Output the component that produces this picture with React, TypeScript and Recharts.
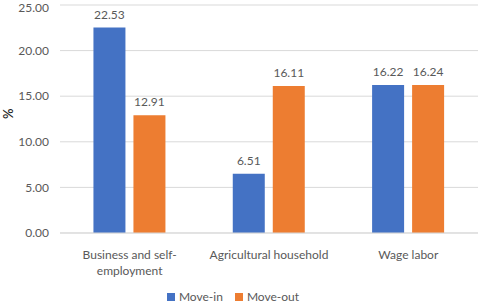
import React from "react";
import { BarChart, Bar, XAxis, YAxis, CartesianGrid, Legend, LabelList, Label } from "recharts";

const categories = ["Business and self-employment", "Agricultural household", "Wage labor"];
const moveIn = [22.53, 6.51, 16.22];
const moveOut = [12.91, 16.11, 16.24];
const yTicks = [0, 5, 10, 15, 20, 25];

const data = categories.map((c, i) => ({ name: c, moveIn: moveIn[i], moveOut: moveOut[i] }));

const FONT = "Lato, 'Open Sans', sans-serif";
const GREY = "#595959";

const splitLabel = (s: string): string[] => {
  if (s.length > 24) {
    const idx = s.lastIndexOf("-");
    if (idx > 0) return [s.slice(0, idx + 1), s.slice(idx + 1)];
  }
  return [s];
};

const XTick = (props: any) => {
  const { x, y, payload } = props;
  const lines = splitLabel(payload.value);
  return (
    <text x={x} y={y} textAnchor="middle" fill={GREY} fontSize={12} fontFamily={FONT}>
      {lines.map((l, i) => (
        <tspan key={i} x={x} dy={i === 0 ? 18 : 16}>
          {l}
        </tspan>
      ))}
    </text>
  );
};

export default function App() {
  return (
    <div style={{ position: "absolute", left: 0, top: 0, width: 480, height: 305, background: "#fff" }}>
      <BarChart
        width={480}
        height={305}
        data={data}
        margin={{ top: 5, right: 2, left: 0, bottom: 0 }}
        barGap={8}
        barCategoryGap="24%"
      >
        <CartesianGrid vertical={false} stroke="#d9d9d9" />
        <XAxis
          dataKey="name"
          axisLine={{ stroke: "#d9d9d9" }}
          tickLine={false}
          height={50}
          interval={0}
          tick={<XTick />}
        />
        <YAxis
          width={60}
          domain={[0, 25]}
          ticks={yTicks}
          axisLine={false}
          tickLine={false}
          tickMargin={5}
          tickFormatter={(v: number) => v.toFixed(2)}
          tick={{ fill: GREY, fontSize: 12, fontFamily: FONT }}
        >
          <Label
            value="%"
            angle={-90}
            position="insideLeft"
            offset={8}
            style={{ fill: "#262626", fontSize: 13, fontFamily: FONT, fontWeight: 600 }}
          />
        </YAxis>
        <Legend
          height={22}
          iconType="square"
          iconSize={8}
          wrapperStyle={{ bottom: -4 }}
          formatter={(v: string) => (
            <span style={{ color: GREY, fontSize: 12, fontFamily: FONT, marginRight: 2 }}>{v}</span>
          )}
        />
        <Bar dataKey="moveIn" name="Move-in" fill="#4472C4" isAnimationActive={false}>
          <LabelList
            dataKey="moveIn"
            position="top"
            offset={9}
            formatter={(v: number) => v.toFixed(2)}
            style={{ fill: GREY, fontSize: 12, fontFamily: FONT }}
          />
        </Bar>
        <Bar dataKey="moveOut" name="Move-out" fill="#ED7D31" isAnimationActive={false}>
          <LabelList
            dataKey="moveOut"
            position="top"
            offset={9}
            formatter={(v: number) => v.toFixed(2)}
            style={{ fill: GREY, fontSize: 12, fontFamily: FONT }}
          />
        </Bar>
      </BarChart>
    </div>
  );
}
